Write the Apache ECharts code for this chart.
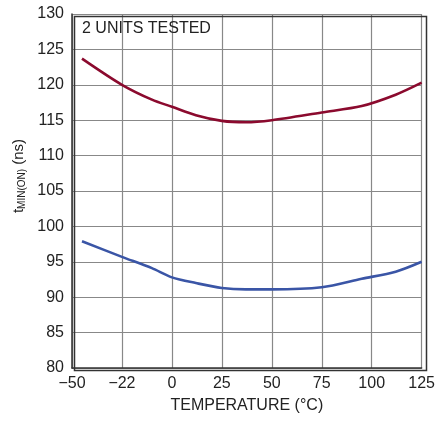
<!DOCTYPE html>
<html><head><meta charset="utf-8">
<script src="https://cdn.jsdelivr.net/npm/echarts@6/dist/echarts.min.js"></script>
<style>html,body{margin:0;padding:0;background:#fff}#c{width:438px;height:423px}</style>
</head><body><div id="c"></div>
<script>
var temps = [-45, -25, -10, 0, 12, 25, 37, 50, 75, 95, 112, 125];
var unitA = [123.7, 120.0, 117.9, 116.9, 115.7, 114.9, 114.7, 115.0, 116.1, 117.0, 118.6, 120.3];
var unitB = [97.9, 95.7, 94.1, 92.8, 92.0, 91.3, 91.1, 91.1, 91.4, 92.6, 93.6, 95.0];
var xTickValues = [-50, -25, 0, 25, 50, 75, 100, 125];
var xTickLabels = ['\u221250', '\u221222', '0', '25', '50', '75', '100', '125'];
var FONT = '"Liberation Sans Narrow", "Liberation Sans", Arial, sans-serif';
function pairs(xs, ys){ return xs.map(function(x,i){ return [x, ys[i]]; }); }
var chart = echarts.init(document.getElementById('c'));
chart.setOption({
  animation: false,
  grid: {left: 72, right: 14, top: 14, bottom: 55},
  xAxis: {
    type: 'value', min: -50, max: 125, interval: 25,
    name: 'TEMPERATURE (\u00B0C)', nameLocation: 'middle', nameGap: 30,
    nameTextStyle: {fontFamily: FONT, fontSize: 16, color: '#222'},
    axisLine: {show: true, onZero: false, lineStyle: {color: '#333', width: 1.5}},
    axisTick: {show: false},
    axisLabel: {fontFamily: FONT, fontSize: 16, color: '#222', margin: 8,
      formatter: function(v){ var i = xTickValues.indexOf(v); return i >= 0 ? xTickLabels[i] : ''; }},
    splitLine: {show: true, lineStyle: {color: '#888', width: 1.2}}
  },
  yAxis: {
    type: 'value', min: 80, max: 130, interval: 5,
    axisLine: {show: true, onZero: false, lineStyle: {color: '#333', width: 1.5}},
    axisTick: {show: false},
    axisLabel: {fontFamily: FONT, fontSize: 16, color: '#222', margin: 8},
    splitLine: {show: true, lineStyle: {color: '#888', width: 1.2}}
  },
  graphic: [
    {type: 'rect', left: 72, top: 14, shape: {width: 352, height: 354}, style: {fill: 'none', stroke: '#333', lineWidth: 1.5}, silent: true, z: 10},
    {type: 'text', left: 82, top: 21, style: {text: '2 UNITS TESTED', font: '16px ' + FONT, fill: '#222'}, z: 11},
    {type: 'text', x: 19, y: 176, rotation: Math.PI / 2,
      style: {text: '{t|t}{s|MIN(ON)}{t| (ns)}', align: 'center', verticalAlign: 'middle',
        rich: {
          t: {fontFamily: FONT, fontSize: 15, fill: '#222', color: '#222'},
          s: {fontFamily: FONT, fontSize: 10, fill: '#222', color: '#222', padding: [7, 0, 0, 0]}
        }}, z: 11}
  ],
  series: [
    {type: 'line', data: pairs(temps, unitA), smooth: 0.3, showSymbol: false, lineStyle: {color: '#8b0a2e', width: 2.6}},
    {type: 'line', data: pairs(temps, unitB), smooth: 0.3, showSymbol: false, lineStyle: {color: '#3a55a6', width: 2.6}}
  ]
});
</script></body></html>
